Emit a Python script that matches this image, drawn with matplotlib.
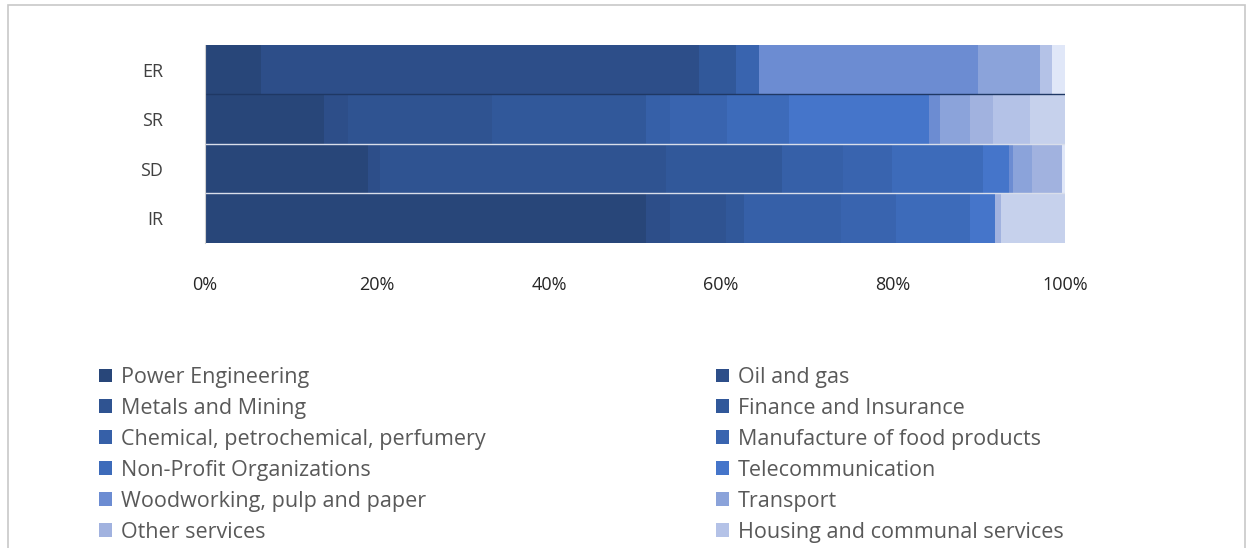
import matplotlib
matplotlib.use("Agg")
import matplotlib.pyplot as plt
from matplotlib.patches import Rectangle

plt.rcParams['font.family'] = ['Open Sans', 'DejaVu Sans']

categories = ["ER", "SR", "SD", "IR"]

series_names = [
    "Power Engineering", "Oil and gas", "Metals and Mining", "Finance and Insurance",
    "Chemical, petrochemical, perfumery", "Manufacture of food products",
    "Non-Profit Organizations", "Telecommunication", "Woodworking, pulp and paper",
    "Transport", "Other services", "Housing and communal services",
    "_series13", "_series14",
]

# shares (%) per series for [ER, SR, SD, IR]
power_engineering = [6.5, 13.8, 18.9, 51.3]
oil_and_gas = [50.9, 2.8, 1.5, 2.8]
metals_mining = [0.0, 16.8, 33.2, 6.5]
finance_insurance = [4.3, 17.9, 13.5, 2.1]
chemical = [0.0, 2.8, 7.1, 11.2]
food_products = [2.7, 6.6, 5.7, 6.5]
non_profit = [0.0, 7.2, 10.6, 8.5]
telecommunication = [0.0, 16.3, 3.0, 3.0]
woodworking = [25.5, 1.3, 0.4, 0.0]
transport = [7.2, 3.4, 2.3, 0.0]
other_services = [0.0, 2.7, 3.4, 0.7]
housing = [1.4, 4.3, 0.0, 0.0]
series13 = [0.0, 4.1, 0.0, 7.4]
series14 = [1.5, 0.0, 0.4, 0.0]

values = [power_engineering, oil_and_gas, metals_mining, finance_insurance, chemical,
          food_products, non_profit, telecommunication, woodworking, transport,
          other_services, housing, series13, series14]

colors = ["#284679", "#2D4E89", "#2F5391", "#31589A", "#3660A8", "#3964AF", "#3D6BBA",
          "#4575CA", "#6C8CD2", "#8BA3DA", "#A1B2DF", "#B4C2E7", "#C6D1EC", "#E0E7F8"]

xticks = [0, 20, 40, 60, 80, 100]
xtick_labels = ["0%", "20%", "40%", "60%", "80%", "100%"]

W, H = 1252, 548
fig = plt.figure(figsize=(W / 100, H / 100), dpi=100)
fig.patch.set_facecolor("white")

ax_left, ax_right = 205, 1065
ax_top, ax_bot = 45, 243
ax = fig.add_axes([ax_left / W, 1 - ax_bot / H, (ax_right - ax_left) / W, (ax_bot - ax_top) / H])

ypos = list(range(len(categories)))
left = [0.0] * len(categories)
handles = []
for name, vals, col in zip(series_names, values, colors):
    b = ax.barh(ypos, vals, left=left, height=1.0, color=col, edgecolor="none", label=name)
    handles.append(b)
    left = [l + v for l, v in zip(left, vals)]

# thin separators between bars
for y in [0.5, 1.5, 2.5]:
    ax.axhline(y, color="#1F3864" if y == 0.5 else "#D9DEEA", lw=1.0)

ax.set_xlim(0, 100)
ax.set_ylim(len(categories) - 0.5, -0.5)
ax.set_yticks(ypos)
ax.set_yticklabels(categories, fontsize=13, color="#404040")
ax.set_xticks(xticks)
ax.set_xticklabels(xtick_labels, fontsize=13, color="#262626")
ax.tick_params(axis="y", length=0, pad=30)
ax.tick_params(axis="x", length=0, pad=24)
for s in ["top", "right", "bottom"]:
    ax.spines[s].set_visible(False)
ax.spines["left"].set_color("#D0D0D0")

# legend: two columns
left_idx = [0, 2, 4, 6, 8, 10]
right_idx = [1, 3, 5, 7, 9, 11]
common = dict(frameon=False, fontsize=15.5, handlelength=0.6, handleheight=0.6,
              handletextpad=0.4, labelspacing=0.46, borderpad=0, borderaxespad=0,
              labelcolor="#595959")
leg1 = fig.legend([handles[i] for i in left_idx], [series_names[i] for i in left_idx],
                  loc="upper left", bbox_to_anchor=(99 / W, 1 - 367 / H), **common)
leg2 = fig.legend([handles[i] for i in right_idx], [series_names[i] for i in right_idx],
                  loc="upper left", bbox_to_anchor=(716 / W, 1 - 367 / H), **common)

# outer chart border
fig.add_artist(Rectangle((8 / W, -0.1), (1245 - 8) / W, 1.1 - 5 / H,
                         transform=fig.transFigure, fill=False, edgecolor="#C8C8C8",
                         lw=1.2, clip_on=False))

fig.savefig("out.png", dpi=100, facecolor="white")
